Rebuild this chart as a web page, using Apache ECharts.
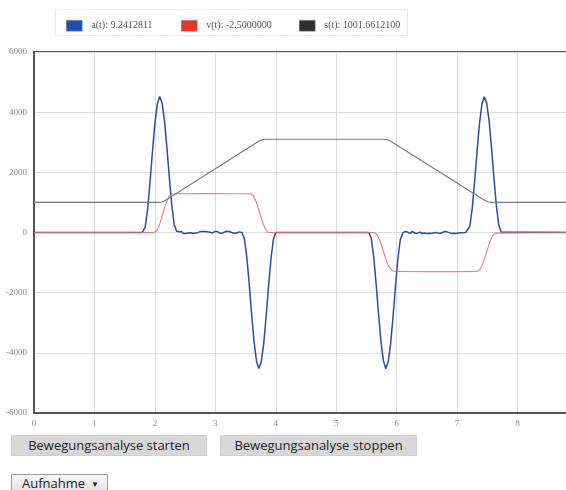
<!DOCTYPE html>
<html>
<head>
<meta charset="utf-8">
<script src="https://cdn.jsdelivr.net/npm/echarts@6/dist/echarts.min.js"></script>
<style>
  html, body { margin: 0; padding: 0; width: 566px; height: 490px; overflow: hidden; background: #fff; }
  #chart { position: absolute; left: 0; top: 0; width: 600px; height: 432px; }
  .btn { position: absolute; top: 435px; height: 21px; background: #d8d8d8; border: 1px solid #d0d0d0; box-sizing: border-box;
         font-family: "Open Sans", sans-serif; font-size: 13px; color: #222; line-height: 19px; text-align: center; }
  #b1 { left: 11px; width: 196px; }
  #b2 { left: 220px; width: 197px; }
  #sel { position: absolute; left: 11px; top: 474px; width: 97px; height: 18px; box-sizing: border-box; border: 1px solid #9a9a9a;
         background: linear-gradient(#f6f6f6, #e4e4e4); font-family: "Open Sans", sans-serif; font-size: 13px; color: #222; line-height: 16px; padding-left: 10px; }
  #sel span { font-size: 8px; vertical-align: 1px; margin-left: 6px; }
</style>
</head>
<body>
<div id="chart"></div>
<div class="btn" id="b1">Bewegungsanalyse starten</div>
<div class="btn" id="b2">Bewegungsanalyse stoppen</div>
<div id="sel">Aufnahme<span>▼</span></div>
<script>
// ---- data (time in s, value) ----
const xTicks = [0, 1, 2, 3, 4, 5, 6, 7, 8];
const yTicks = [-6000, -4000, -2000, 0, 2000, 4000, 6000];

const seriesNames = ['a(t)', 'v(t)', 's(t)'];
const legendValues = ['9.2412811', '-2.5000000', '1001.6612100'];

const accel = [
  [0, 0], [1.79, 0],
  [1.80, 0], [1.84, 180], [1.88, 780], [1.92, 1680], [1.96, 2700], [2.00, 3620], [2.04, 4260], [2.08, 4520],
  [2.12, 4300], [2.16, 3700], [2.20, 2800], [2.24, 1800], [2.28, 900], [2.32, 260], [2.36, 40],
  [2.38, 15], [2.39, -20], [2.40, 25], [2.41, -30], [2.42, 10], [2.43, -25], [2.44, 35], [2.45, -15], [2.46, 5],
  [2.47, -35], [2.48, 20], [2.49, -10], [2.50, 30], [2.51, -30], [2.52, 15], [2.53, -5], [2.54, 35], [2.55, -20],
  [2.56, 25], [2.57, -35], [2.58, 15], [2.59, -10], [2.60, 30], [2.61, -25], [2.62, 10], [2.63, -35], [2.64, 20],
  [2.65, 0], [2.66, 30], [2.67, -20], [2.68, 25], [2.69, -30], [2.70, 15], [2.71, -5], [2.72, 35], [2.73, -20],
  [2.74, 10], [2.75, 30], [2.76, -25], [2.77, 15], [2.78, -10], [2.79, 35], [2.80, -15], [2.81, 40], [2.82, 0],
  [2.83, 30], [2.84, -10], [2.85, 40], [2.86, -5], [2.87, 25], [2.88, 45], [2.89, 0], [2.90, 35], [2.91, 10],
  [2.92, 40], [2.93, -10], [2.94, 30], [2.95, -15], [2.96, 25], [2.97, 45], [2.98, -5], [2.99, 30], [3.00, -20],
  [3.01, 20], [3.02, -10], [3.03, 35], [3.04, -25], [3.05, 15], [3.06, 30], [3.07, -20], [3.08, 20], [3.09, -10],
  [3.10, 35], [3.11, -30], [3.12, 10], [3.13, 25], [3.14, -20], [3.15, 15], [3.16, -25], [3.17, 30], [3.18, 5],
  [3.19, 40], [3.20, -15], [3.21, 25], [3.22, 10], [3.23, 35], [3.24, -20], [3.25, 20], [3.26, 45], [3.27, 0],
  [3.28, 30], [3.29, -15], [3.30, 20], [3.31, -25], [3.32, 35], [3.33, 5], [3.34, 25], [3.35, -20], [3.36, 15],
  [3.37, 30], [3.38, -10], [3.39, 20], [3.40, -15], [3.41, 10], [3.42, 0],
  [3.44, 0], [3.48, -200], [3.52, -800], [3.56, -1700], [3.60, -2700], [3.64, -3620], [3.68, -4260], [3.72, -4520],
  [3.76, -4300], [3.80, -3700], [3.84, -2800], [3.88, -1800], [3.92, -880], [3.96, -240], [4.00, 0],
  [5.54, 0], [5.58, -200], [5.62, -800], [5.66, -1700], [5.70, -2700], [5.74, -3620], [5.78, -4260], [5.82, -4530],
  [5.86, -4300], [5.90, -3700], [5.94, -2800], [5.98, -1800], [6.02, -880], [6.06, -240], [6.10, -20],
  [6.12, 20], [6.13, -25], [6.14, 35], [6.15, -10], [6.16, 30], [6.17, -20], [6.18, 15], [6.19, 40], [6.20, -15],
  [6.21, 20], [6.22, -30], [6.23, 10], [6.24, 25], [6.25, -15], [6.26, 35], [6.27, -25], [6.28, 5], [6.29, 20],
  [6.30, -20], [6.31, 30], [6.32, -10], [6.33, 15], [6.34, -30], [6.35, 10], [6.36, 35], [6.37, -20], [6.38, 10],
  [6.39, 25], [6.40, -15], [6.41, 20], [6.42, -25], [6.43, 30], [6.44, -5], [6.45, 15], [6.46, -20], [6.47, 30],
  [6.48, -10], [6.49, 10], [6.50, -30], [6.51, 20], [6.52, -10], [6.53, 25], [6.54, -25], [6.55, 10], [6.56, -15],
  [6.57, 30], [6.58, -30], [6.59, 5], [6.60, -20], [6.61, 25], [6.62, -10], [6.63, 15], [6.64, -25], [6.65, 20],
  [6.66, 0], [6.67, 30], [6.68, -15], [6.69, 10], [6.70, -30], [6.71, 20], [6.72, -5], [6.73, 25], [6.74, -20],
  [6.75, 15], [6.76, -30], [6.77, 5], [6.78, 25], [6.79, -15], [6.80, 10], [6.81, -25], [6.82, 30], [6.83, -10],
  [6.84, 15], [6.85, -35], [6.86, 5], [6.87, 20], [6.88, -20], [6.89, 10], [6.90, -30], [6.91, 25], [6.92, -15],
  [6.93, 5], [6.94, -25], [6.95, 20], [6.96, -10], [6.97, 15], [6.98, -30], [6.99, 10], [7.00, -20], [7.01, 25],
  [7.02, -15], [7.03, 5], [7.04, -30], [7.05, 20], [7.06, -10], [7.07, 15], [7.08, -25], [7.09, 30], [7.10, -5],
  [7.11, 10], [7.12, -20], [7.13, 25], [7.14, 0], [7.15, 15],
  [7.17, 0], [7.21, 200], [7.25, 800], [7.29, 1700], [7.33, 2700], [7.37, 3620], [7.41, 4260], [7.45, 4510],
  [7.49, 4300], [7.53, 3700], [7.57, 2800], [7.61, 1800], [7.65, 880], [7.69, 240], [7.73, 20], [7.75, 0],
  [9, 0]
];

const velocity = [
  [0, 0], [1.98, 0], [2.03, 60], [2.08, 280], [2.13, 620], [2.18, 950], [2.23, 1190], [2.28, 1280], [2.35, 1290],
  [2.8, 1295], [3.3, 1290], [3.58, 1290], [3.63, 1220], [3.68, 1000], [3.73, 680], [3.78, 350], [3.83, 100], [3.87, 0],
  [5.62, 0], [5.67, -60], [5.72, -250], [5.77, -560], [5.82, -880], [5.87, -1130], [5.92, -1260], [5.98, -1295],
  [6.5, -1300], [7.0, -1300], [7.33, -1295], [7.38, -1230], [7.43, -1020], [7.48, -700], [7.53, -380], [7.58, -130],
  [7.63, -20], [7.66, 0], [9, 0]
];

const position = [
  [0, 1000], [2.07, 1000], [2.11, 1010], [2.15, 1040], [2.19, 1088], [3.64, 2935], [3.68, 2985], [3.72, 3032],
  [3.76, 3070], [3.80, 3093], [3.84, 3100], [5.80, 3100], [5.84, 3092], [5.88, 3060], [5.92, 3010], [7.40, 1138],
  [7.44, 1088], [7.48, 1045], [7.52, 1015], [7.56, 1002], [7.60, 1000], [9, 1000]
];

const lineColors = ['#2a4ca4', '#e46a6a', '#7a7a7a'];
const swatchColors = ['#2150a8', '#e8322b', '#2f2f2f'];
const legendLeft = [61, 176, 294];

const chart = echarts.init(document.getElementById('chart'), null, { renderer: 'canvas' });

const legends = seriesNames.map((n, i) => ({
  left: legendLeft[i], top: 15, orient: 'horizontal',
  itemWidth: 16, itemHeight: 11, icon: 'rect', selectedMode: false,
  data: [{ name: n, itemStyle: { color: swatchColors[i], borderColor: '#999', borderWidth: 0.5 } }],
  formatter: name => name + ': ' + legendValues[i],
  textStyle: { fontFamily: 'Liberation Serif', fontSize: 10, color: '#555', padding: [0, 0, 0, 4] }
}));

const datasets = [accel, velocity, position];

chart.setOption({
  animation: false,
  backgroundColor: '#fff',
  graphic: [{
    type: 'rect', left: 53, top: 7,
    shape: { width: 352, height: 26 },
    style: { fill: 'none', stroke: '#c4c4c4', lineWidth: 1, lineDash: [1, 2] }
  }],
  legend: legends,
  grid: { left: 34, top: 52, width: 544, height: 361, show: true, borderColor: '#555', borderWidth: 2, backgroundColor: 'transparent' },
  xAxis: {
    type: 'value', min: 0, max: 9, interval: 1,
    axisLine: { show: true, onZero: false, lineStyle: { color: '#555', width: 2 } },
    axisTick: { show: false },
    axisLabel: { color: '#888', fontFamily: 'Liberation Serif', fontSize: 9, margin: 6,
                 formatter: v => xTicks.includes(v) ? String(v) : '' },
    splitLine: { show: true, lineStyle: { color: '#dcdcdc', width: 1 } }
  },
  yAxis: {
    type: 'value', min: -6000, max: 6000, interval: 2000,
    axisLine: { show: true, lineStyle: { color: '#555', width: 2 } },
    axisTick: { show: false },
    axisLabel: { color: '#888', fontFamily: 'Liberation Serif', fontSize: 9, margin: 7,
                 formatter: v => yTicks.includes(v) ? String(v) : '' },
    splitLine: { show: true, lineStyle: { color: '#dcdcdc', width: 1 } }
  },
  series: seriesNames.map((n, i) => ({
    name: n, type: 'line', data: datasets[i], showSymbol: false, symbol: 'none',
    lineStyle: { color: lineColors[i], width: i === 0 ? 1.5 : 1.1, opacity: i === 1 ? 0.85 : 1 },
    itemStyle: { color: swatchColors[i] },
    z: i === 0 ? 2 : 3
  }))
});
</script>
</body>
</html>
